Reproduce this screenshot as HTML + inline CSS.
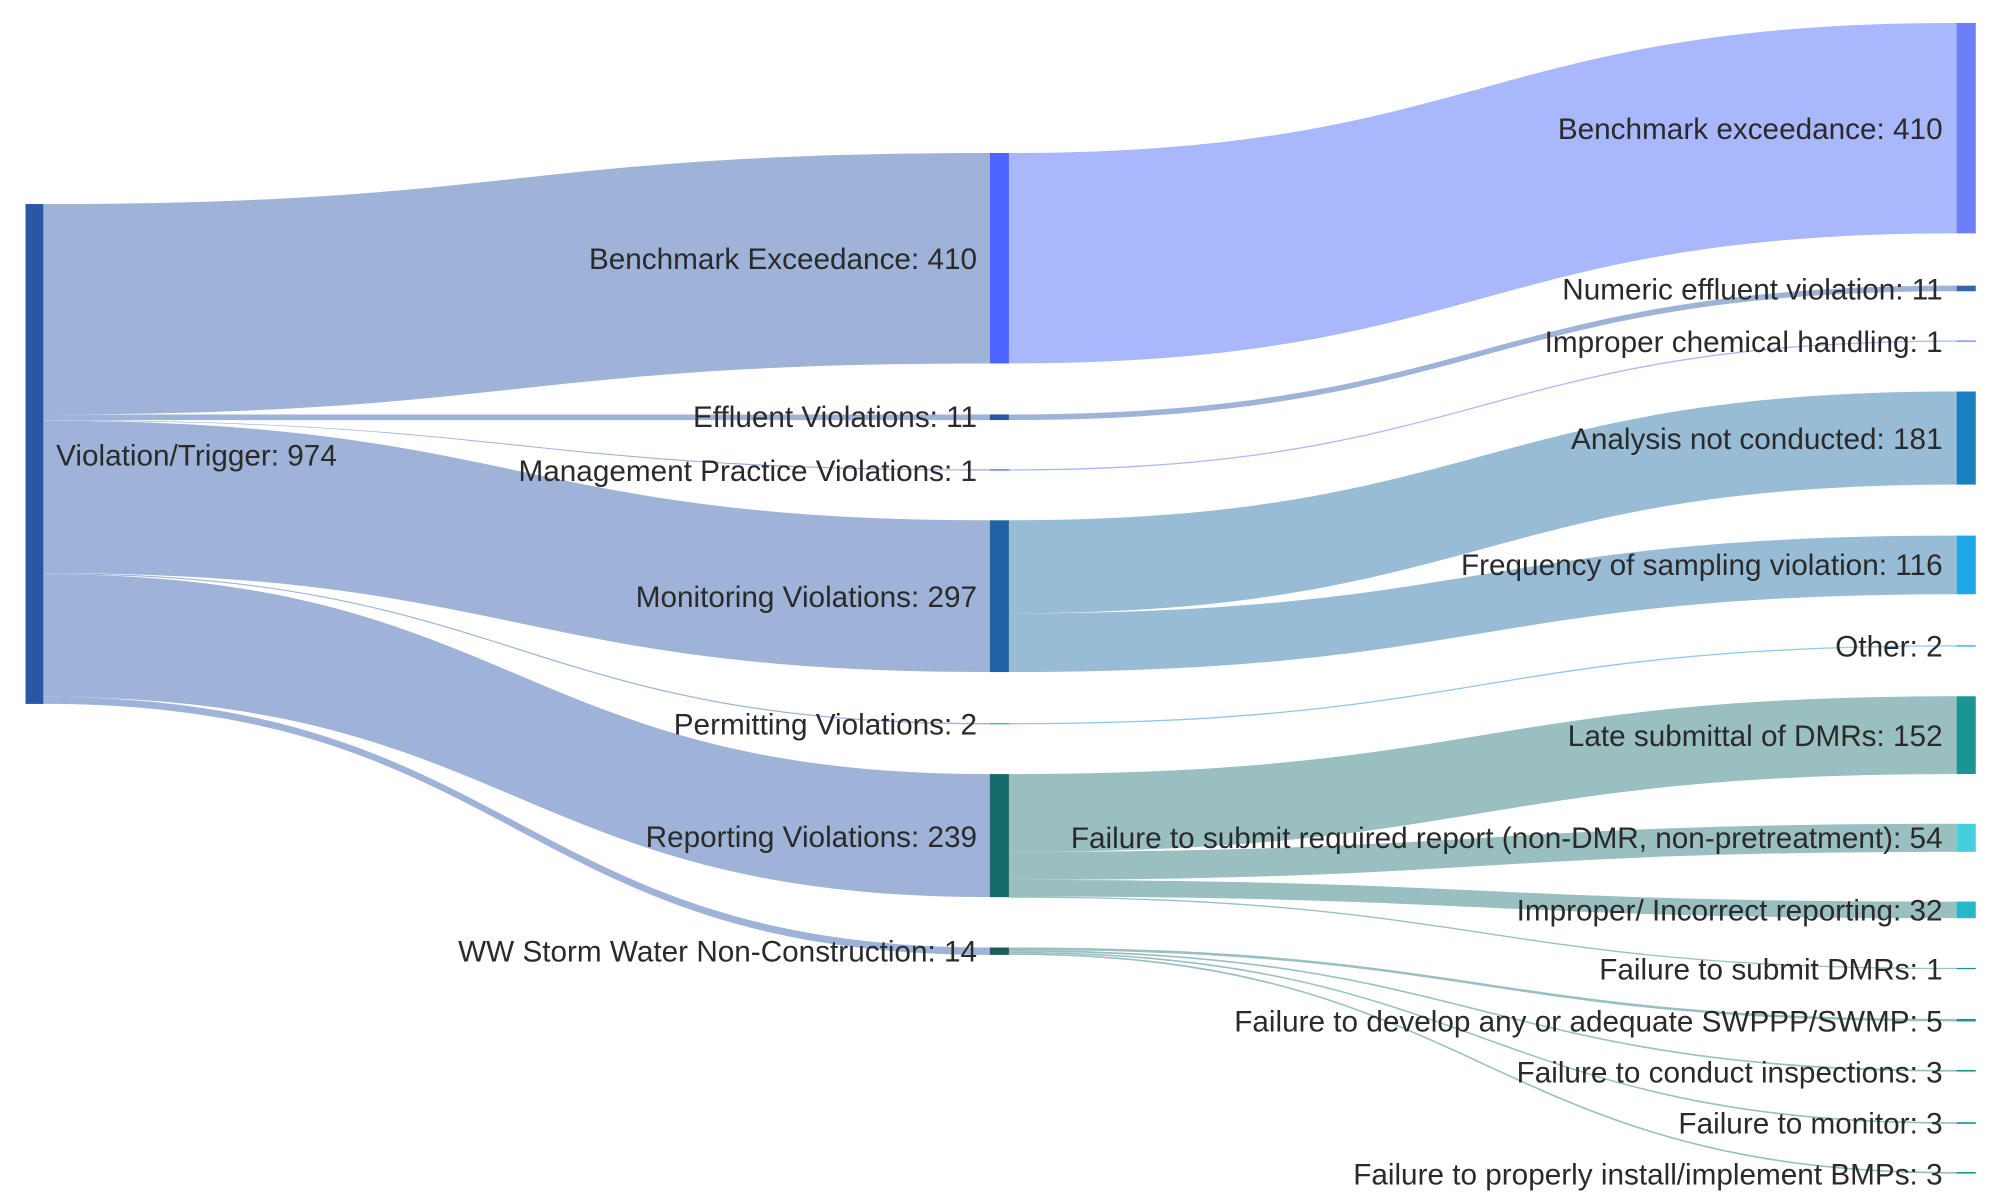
<!DOCTYPE html>
<html><head><meta charset="utf-8"><style>
html,body{margin:0;padding:0;background:#fff;}
svg{display:block;}
text{font-family:"Liberation Sans",sans-serif;font-size:23.3px;fill:#2a2a2a;}
</style></head><body>
<svg width="2000" height="1200" viewBox="0 0 1568 941" preserveAspectRatio="none" xmlns="http://www.w3.org/2000/svg">
<g fill="#9fb3d9">
<path d="M34 160 C405 160,405 120,776 120 L776 285 C405 285,405 325,34 325Z"/>
<path d="M34 325 C405 325,405 325,776 325 L776 329.4 C405 329.4,405 329.4,34 329.4Z"/>
<path d="M34 329.4 C405 329.4,405 368,776 368 L776 369 C405 369,405 329.9,34 329.9Z"/>
<path d="M34 329.9 C405 329.9,405 408,776 408 L776 527 C405 527,405 449.4,34 449.4Z"/>
<path d="M34 449.4 C405 449.4,405 567,776 567 L776 568 C405 568,405 450.3,34 450.3Z"/>
<path d="M34 450.3 C405 450.3,405 607,776 607 L776 703.5 C405 703.5,405 546.5,34 546.5Z"/>
<path d="M34 546.5 C405 546.5,405 743,776 743 L776 748.8 C405 748.8,405 552,34 552Z"/>
</g>
<path fill="#a9b7fd" d="M791 120 C1162 120,1162 18,1534 18 L1534 183 C1162 183,1162 285,791 285Z"/>
<path fill="#9fb3d9" d="M791 325 C1162 325,1162 224,1534 224 L1534 228.4 C1162 228.4,1162 329.4,791 329.4Z"/>
<path fill="#a9b7fd" d="M791 368 C1162 368,1162 267,1534 267 L1534 268 C1162 268,1162 369,791 369Z"/>
<g fill="#99bcd6">
<path d="M791 408 C1162 408,1162 307,1534 307 L1534 380 C1162 380,1162 481,791 481Z"/>
<path d="M791 481 C1162 481,1162 420,1534 420 L1534 466 C1162 466,1162 527,791 527Z"/>
</g>
<path fill="#8fc7f0" d="M791 567 C1162 567,1162 506,1534 506 L1534 507 C1162 507,1162 568,791 568Z"/>
<g fill="#99bfc0">
<path d="M791 607 C1162 607,1162 546,1534 546 L1534 607 C1162 607,1162 668,791 668Z"/>
<path d="M791 668 C1162 668,1162 646,1534 646 L1534 668 C1162 668,1162 690,791 690Z"/>
<path d="M791 690 C1162 690,1162 707,1534 707 L1534 720 C1162 720,1162 703,791 703Z"/>
<path d="M791 703 C1162 703,1162 759,1534 759 L1534 760 C1162 760,1162 704,791 704Z"/>
<path d="M791 743 C1162 743,1162 799,1534 799 L1534 801 C1162 801,1162 745,791 745Z"/>
<path d="M791 745 C1162 745,1162 839,1534 839 L1534 840.3 C1162 840.3,1162 746.3,791 746.3Z"/>
<path d="M791 746.3 C1162 746.3,1162 880,1534 880 L1534 881.3 C1162 881.3,1162 747.5,791 747.5Z"/>
<path d="M791 747.5 C1162 747.5,1162 919,1534 919 L1534 920.3 C1162 920.3,1162 748.8,791 748.8Z"/>
</g>
<rect x="20" y="160" width="14" height="392" fill="#2a56a8"/>
<rect x="776" y="120" width="15" height="165" fill="#4b63ff"/>
<rect x="776" y="325" width="15" height="4.4" fill="#2a56a8"/>
<rect x="776" y="368" width="15" height="1" fill="#4b63ff"/>
<rect x="776" y="408" width="15" height="119" fill="#1f63a6"/>
<rect x="776" y="567" width="15" height="1" fill="#1ea8e8"/>
<rect x="776" y="607" width="15" height="96.5" fill="#176b6b"/>
<rect x="776" y="743" width="15" height="5.8" fill="#1a5d5a"/>
<rect x="1534" y="18" width="15" height="165" fill="#6c7ff8"/>
<rect x="1534" y="224" width="15" height="4.4" fill="#3465b0"/>
<rect x="1534" y="267" width="15" height="1" fill="#6c7ff8"/>
<rect x="1534" y="307" width="15" height="73" fill="#1a80c0"/>
<rect x="1534" y="420" width="15" height="46" fill="#1ea8e8"/>
<rect x="1534" y="506" width="15" height="1" fill="#1ea8e8"/>
<rect x="1534" y="546" width="15" height="61" fill="#1b9494"/>
<rect x="1534" y="646" width="15" height="22" fill="#43d0dc"/>
<rect x="1534" y="707" width="15" height="13" fill="#24b8c8"/>
<rect x="1534" y="759" width="15" height="1" fill="#1b9494"/>
<rect x="1534" y="799" width="15" height="2" fill="#1b9494"/>
<rect x="1534" y="839" width="15" height="1.3" fill="#1b9494"/>
<rect x="1534" y="880" width="15" height="1.3" fill="#1b9494"/>
<rect x="1534" y="919" width="15" height="1.3" fill="#1b9494"/>
<text x="44" y="365">Violation/Trigger: 974</text>
<g text-anchor="end">
<text x="766" y="211">Benchmark Exceedance: 410</text>
<text x="766" y="335">Effluent Violations: 11</text>
<text x="766" y="377">Management Practice Violations: 1</text>
<text x="766" y="476">Monitoring Violations: 297</text>
<text x="766" y="576">Permitting Violations: 2</text>
<text x="766" y="664">Reporting Violations: 239</text>
<text x="766" y="754">WW Storm Water Non-Construction: 14</text>
<text x="1523" y="109">Benchmark exceedance: 410</text>
<text x="1523" y="235">Numeric effluent violation: 11</text>
<text x="1523" y="276">Improper chemical handling: 1</text>
<text x="1523" y="352">Analysis not conducted: 181</text>
<text x="1523" y="451">Frequency of sampling violation: 116</text>
<text x="1523" y="515">Other: 2</text>
<text x="1523" y="585">Late submittal of DMRs: 152</text>
<text x="1523" y="665">Failure to submit required report (non-DMR, non-pretreatment): 54</text>
<text x="1523" y="722">Improper/ Incorrect reporting: 32</text>
<text x="1523" y="768">Failure to submit DMRs: 1</text>
<text x="1523" y="809">Failure to develop any or adequate SWPPP/SWMP: 5</text>
<text x="1523" y="849">Failure to conduct inspections: 3</text>
<text x="1523" y="889">Failure to monitor: 3</text>
<text x="1523" y="929">Failure to properly install/implement BMPs: 3</text>
</g>
</svg>
</body></html>
